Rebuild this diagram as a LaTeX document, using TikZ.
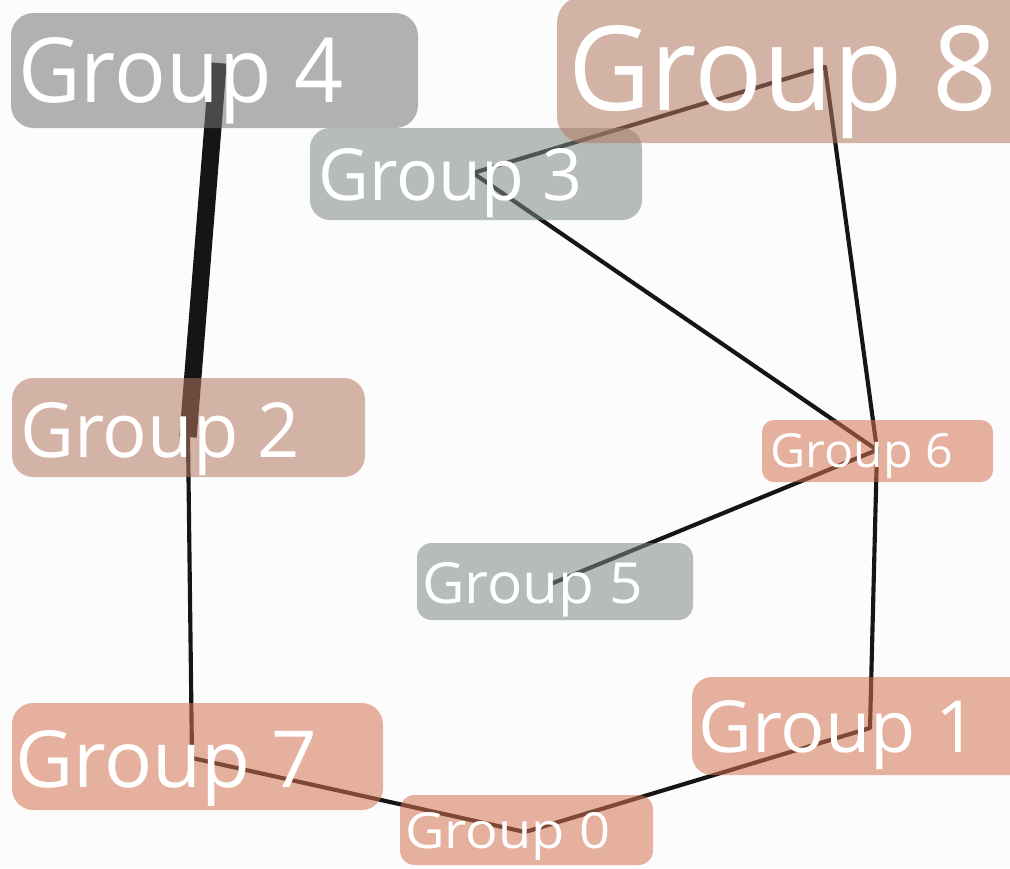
\documentclass[tikz,border=0pt]{standalone}
\usepackage{fontspec}
\setmainfont{Open Sans}
\usepackage{graphicx}

\definecolor{paper}{RGB}{252,252,252}
\definecolor{edgeink}{RGB}{22,20,20}
\definecolor{greybox}{RGB}{115,118,115}
\definecolor{sagebox}{RGB}{125,138,129}
\definecolor{rosebox}{RGB}{180,120,98}
\definecolor{salmonbox}{RGB}{213,115,82}

\tikzset{
  edge/.style={draw=edgeink, line width=3.1pt, line cap=round, line join=round},
  heavy edge/.style={draw=edgeink, line width=13pt, line cap=butt},
  box/.style={fill opacity=0.55, rounded corners=#1},
  box/.default=15pt,
  grouptext/.style={anchor=base west, inner sep=0pt, text=white},
}

\begin{document}
\begin{tikzpicture}[x=0.75pt,y=0.75pt,yscale=-1,xscale=1]
\clip (0,0) rectangle (1010,868);
\fill[paper] (0,0) rectangle (1010,868);

% edge end points
\coordinate (n0) at (525,832);
\coordinate (n1) at (870,728);
\coordinate (n2) at (188,437);
\coordinate (n3) at (473,173);
\coordinate (n4) at (218,63);
\coordinate (n5) at (553,583);
\coordinate (n6) at (877,450);
\coordinate (n7) at (192,758);
\coordinate (n8) at (825,67);

% edges
\draw[heavy edge] (n4) -- (n2);
\draw[edge] (n2) -- (n7) -- (n0) -- (n1) -- (n6) -- (n8) -- (n3) -- (n6);
\draw[edge] (n5) -- (n6);

% boxes
\fill[box=17pt, greybox] (11,13) rectangle (418,128);
\fill[box=15pt, sagebox] (310,128) rectangle (642,220);
\fill[box=20pt, rosebox] (557,-4) rectangle (1040,143);
\fill[box=16pt, rosebox] (12,378) rectangle (365,477);
\fill[box=9pt, salmonbox] (762,420) rectangle (993,482);
\fill[box=11pt, sagebox] (417,543) rectangle (693,620);
\fill[box=15pt, salmonbox] (692,677) rectangle (1040,775);
\fill[box=16pt, salmonbox] (12,703) rectangle (383,810);
\fill[box=11pt, salmonbox] (400,795) rectangle (653,865);

% labels
\node[grouptext] (t4) at (18,102) {\resizebox{243.75pt}{48.75pt}{Group 4}};
\node[grouptext] (t8) at (568,110) {\resizebox{321.75pt}{63.75pt}{Group 8}};
\node[grouptext] (t3) at (318,200) {\resizebox{198pt}{39pt}{Group 3}};
\node[grouptext] (t2) at (20,457) {\resizebox{210pt}{41.25pt}{Group 2}};
\node[grouptext] (t6) at (770,467) {\resizebox{137.25pt}{25.5pt}{Group 6}};
\node[grouptext] (t5) at (422,603) {\resizebox{165.75pt}{30.75pt}{Group 5}};
\node[grouptext] (t1) at (698,752) {\resizebox{209.25pt}{39pt}{Group 1}};
\node[grouptext] (t7) at (15,787) {\resizebox{226.5pt}{42.75pt}{Group 7}};
\node[grouptext] (t0) at (405,848) {\resizebox{153.75pt}{27pt}{Group 0}};
\end{tikzpicture}
\end{document}
